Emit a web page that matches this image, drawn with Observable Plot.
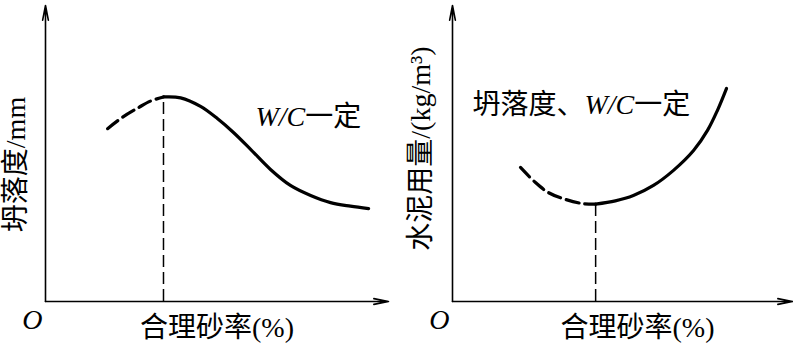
<!DOCTYPE html>
<html>
<head>
<meta charset="utf-8">
<script src="https://cdn.jsdelivr.net/npm/d3@7"></script>
<script src="https://cdn.jsdelivr.net/npm/@observablehq/plot@0.6"></script>
<style>
  html, body { margin: 0; padding: 0; background: #fff; }
  #wrap { position: relative; width: 793px; height: 345px; overflow: hidden; background: #fff; }
  #wrap svg { position: absolute; top: 0; }
</style>
</head>
<body>
<div id="wrap"></div>
<script>
// ---------- data (abstract units 0–100 on both axes) ----------
// Left panel: 坍落度 vs 合理砂率
const leftDashX  = [18.1, 22.4, 27.1, 30.6, 34.4];
const leftDashY  = [58.4, 62.2, 65.5, 67.7, 69.1];
const leftSolidX = [34.4, 39.4, 45.2, 50.1, 54.8, 59.8, 65.6, 71.4, 77.3, 83.1, 88.9, 94.2];
const leftSolidY = [69.1, 68.8, 65.9, 61.8, 57.1, 51.4, 44.6, 39.2, 35.8, 33.4, 32.2, 31.4];
const leftOptimum = {x: 34.4, y: 69.1};

// Right panel: 水泥用量 vs 合理砂率
const rightDashX  = [20.0, 24.4, 28.2, 32.4, 38.2, 42.1];
const rightDashY  = [45.3, 40.2, 36.8, 34.8, 33.1, 32.9];
const rightSolidX = [42.1, 47.9, 53.2, 59.1, 65.0, 70.9, 75.0, 77.9, 80.6];
const rightSolidY = [32.9, 34.0, 35.8, 39.2, 44.3, 51.0, 57.8, 64.5, 72.0];
const rightOptimum = {x: 42.1, y: 32.9};

// Texts
const xLabel = "合理砂率(%)";
const originLabel = "O";
const leftYLabel = "坍落度/mm";
const rightYLabel = "水泥用量/(kg/m³)";
const leftNote = "W/C一定";
const rightNote = "坍落度、W/C一定";

const axisDomain = [0, 100];

// ---------- helpers ----------
const zip = (xs, ys) => xs.map((x, i) => ({x, y: ys[i]}));
const FONT = "'Liberation Serif', 'Noto Sans CJK SC', serif";
const FS = 28;

function panel(cfg) {
  const svg = Plot.plot({
    width: cfg.width,
    height: 345,
    marginLeft: cfg.marginLeft,
    marginRight: cfg.marginRight,
    marginTop: 5,
    marginBottom: 44,
    style: {fontFamily: FONT, background: "transparent", overflow: "visible"},
    x: {domain: axisDomain, axis: null},
    y: {domain: axisDomain, axis: null},
    marks: [
      // axes with arrow heads
      Plot.arrow([0], {x1: () => 0, y1: () => 0, x2: () => 0, y2: () => 100,
        stroke: "black", strokeWidth: 1.6, headLength: 14, headAngle: 22}),
      Plot.arrow([0], {x1: () => 0, y1: () => 0, x2: () => 100, y2: () => 0,
        stroke: "black", strokeWidth: 1.6, headLength: 14, headAngle: 22}),
      // optimum drop line
      Plot.ruleX([cfg.optimum], {x: "x", y1: () => 0, y2: "y",
        stroke: "black", strokeWidth: 1.5, strokeDasharray: "12,5"}),
      // curves
      Plot.line(zip(cfg.dashX, cfg.dashY), {x: "x", y: "y", curve: "catmull-rom",
        stroke: "black", strokeWidth: 3.2, strokeDasharray: "13,6"}),
      Plot.line(zip(cfg.solidX, cfg.solidY), {x: "x", y: "y", curve: "catmull-rom",
        stroke: "black", strokeWidth: 3.2}),
      // origin
      Plot.text([originLabel], {text: d => d, frameAnchor: "bottom-left",
        dx: -3, dy: 19, textAnchor: "end", lineAnchor: "middle",
        fontSize: 28, fontStyle: "italic", fill: "black"}),
      // x label
      Plot.text([xLabel], {text: d => d, frameAnchor: "bottom",
        dx: cfg.xLabelDx, dy: 27, textAnchor: "middle", lineAnchor: "middle",
        fontSize: FS, fill: "black"}),
      // y label
      Plot.text([cfg.yLabel], {text: d => d, frameAnchor: "left",
        dx: cfg.yLabelDx, dy: cfg.yLabelDy, rotate: -90,
        textAnchor: "middle", lineAnchor: "middle",
        fontSize: FS, fill: "black"}),
      // note
      Plot.text([cfg.note], {text: d => d, frameAnchor: "top-left",
        dx: cfg.noteDx, dy: cfg.noteDy, textAnchor: "start", lineAnchor: "middle",
        fontSize: FS, fill: "black"})
    ]
  });
  // italicise W/C in notes
  svg.querySelectorAll("text").forEach(t => {
    const s = t.textContent;
    const i = s.indexOf("W/C");
    if (i < 0 || t.children.length) return;
    t.textContent = "";
    const ns = "http://www.w3.org/2000/svg";
    const add = (str, italic) => {
      const ts = document.createElementNS(ns, "tspan");
      ts.textContent = str;
      if (italic) ts.setAttribute("font-style", "italic");
      t.appendChild(ts);
    };
    if (i > 0) add(s.slice(0, i), false);
    add("W/C", true);
    add(s.slice(i + 3), false);
  });
  svg.style.left = cfg.left + "px";
  return svg;
}

const wrap = document.getElementById("wrap");
wrap.appendChild(panel({
  left: 0, width: 396, marginLeft: 45, marginRight: 8,
  dashX: leftDashX, dashY: leftDashY, solidX: leftSolidX, solidY: leftSolidY,
  optimum: leftOptimum, yLabel: leftYLabel, note: leftNote,
  xLabelDx: 0, yLabelDx: -29, yLabelDy: 11, noteDx: 210, noteDy: 112
}));
wrap.appendChild(panel({
  left: 396, width: 397, marginLeft: 56, marginRight: 1,
  dashX: rightDashX, dashY: rightDashY, solidX: rightSolidX, solidY: rightSolidY,
  optimum: rightOptimum, yLabel: rightYLabel, note: rightNote,
  xLabelDx: 15, yLabelDx: -31, yLabelDy: -5, noteDx: 20, noteDy: 100
}));
</script>
</body>
</html>
